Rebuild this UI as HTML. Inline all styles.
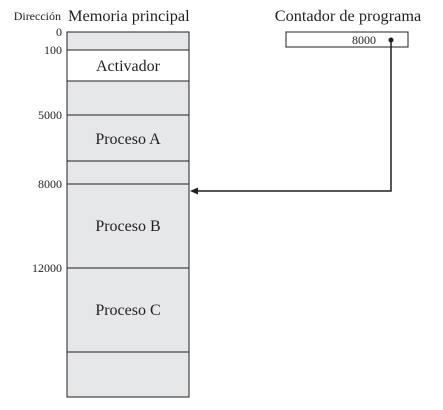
<!DOCTYPE html>
<html><head><meta charset="utf-8"><style>
body{margin:0;background:#fff}
svg text{font-family:"Liberation Serif",serif;fill:#231f20}
</style></head><body>
<svg width="443" height="405" viewBox="0 0 443 405" xmlns="http://www.w3.org/2000/svg">
<rect x="67" y="32" width="122" height="365" fill="#e6e7e8" stroke="#231f20" stroke-width="1"/>
<rect x="67" y="50" width="122" height="31" fill="#fff" stroke="#231f20" stroke-width="1"/>
<g stroke="#231f20" stroke-width="1">
<line x1="67" y1="115" x2="189" y2="115"/>
<line x1="67" y1="161" x2="189" y2="161"/>
<line x1="67" y1="184" x2="189" y2="184"/>
<line x1="67" y1="268" x2="189" y2="268"/>
<line x1="67" y1="352" x2="189" y2="352"/>
</g>
<text x="61" y="20" font-size="12" text-anchor="end">Dirección</text>
<text x="68" y="21" font-size="16.3">Memoria principal</text>
<text x="62" y="36" font-size="12" text-anchor="end">0</text>
<text x="62" y="54" font-size="12" text-anchor="end">100</text>
<text x="62" y="119" font-size="12" text-anchor="end">5000</text>
<text x="62" y="188" font-size="12" text-anchor="end">8000</text>
<text x="62" y="272" font-size="12" text-anchor="end">12000</text>
<text x="128" y="71" font-size="16" text-anchor="middle">Activador</text>
<text x="128" y="144" font-size="16" text-anchor="middle">Proceso A</text>
<text x="128" y="231" font-size="16" text-anchor="middle">Proceso B</text>
<text x="128" y="315" font-size="16" text-anchor="middle">Proceso C</text>
<text x="348" y="21" font-size="16.3" text-anchor="middle">Contador de programa</text>
<rect x="286" y="32" width="122" height="15" fill="#fff" stroke="#231f20" stroke-width="1"/>
<text x="376" y="44" font-size="12" text-anchor="end">8000</text>
<circle cx="391" cy="40" r="2.5" fill="#231f20"/>
<polyline points="391,40 391,191 196,191" fill="none" stroke="#231f20" stroke-width="1.5"/>
<polygon points="190,191 198,187.5 198,194.5" fill="#231f20"/>
</svg>
</body></html>
